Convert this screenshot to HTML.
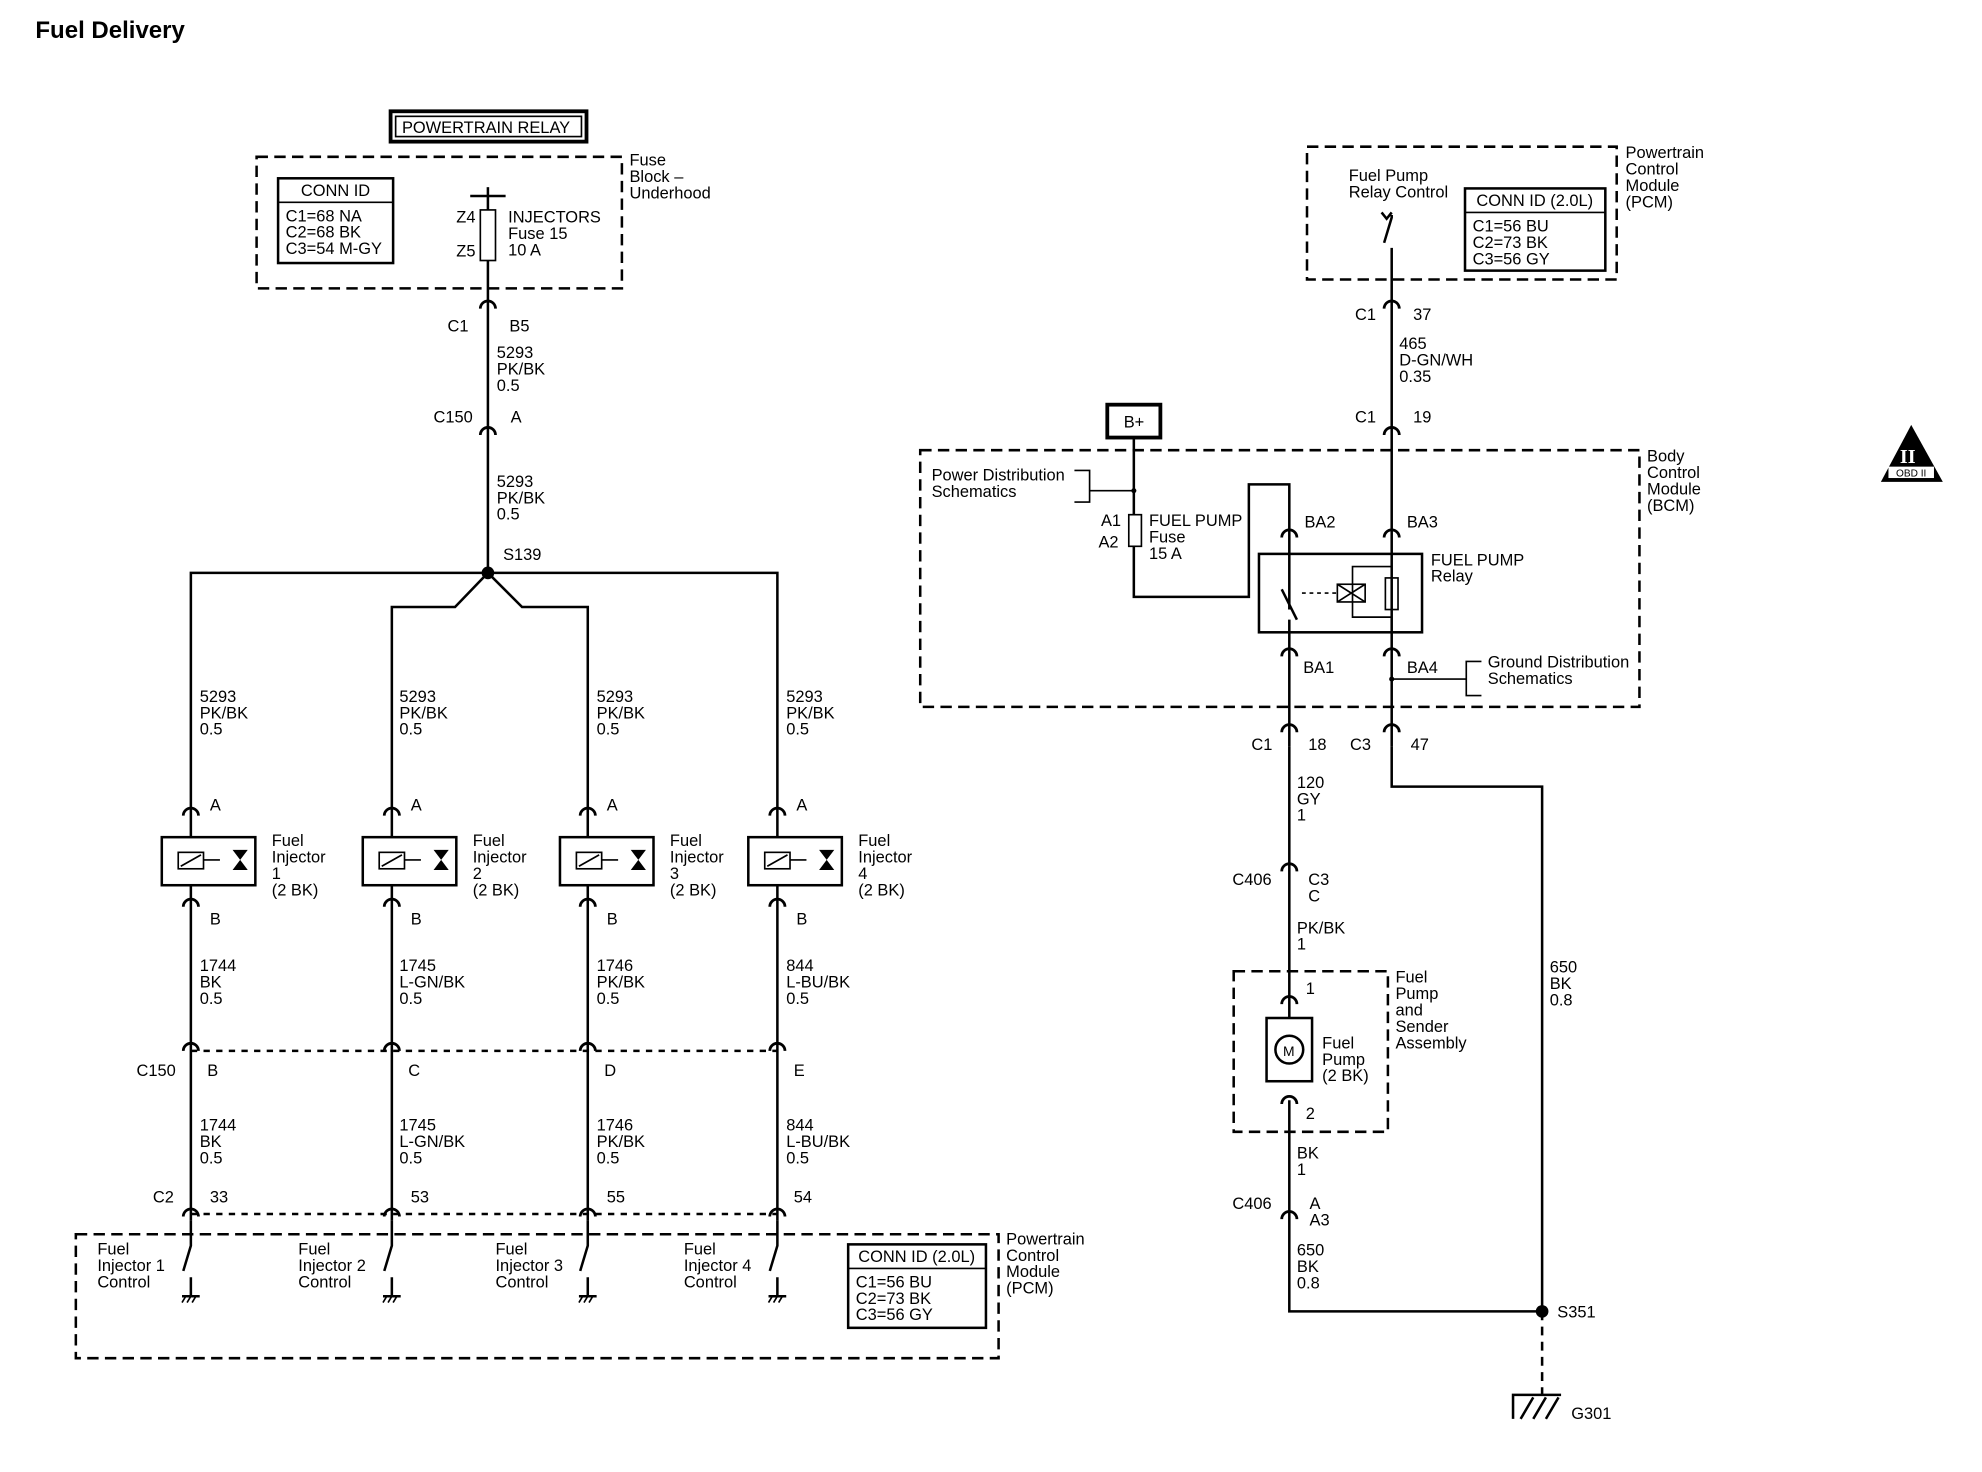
<!DOCTYPE html>
<html><head><meta charset="utf-8"><style>
html,body{margin:0;padding:0;background:#fff}
svg{display:block}
text{font-family:"Liberation Sans",sans-serif;font-size:13px;fill:#000}
.b{font-weight:bold}
.w{stroke:#000;stroke-width:2;fill:none}
.t{stroke:#000;stroke-width:1.3;fill:none}
.d{stroke:#000;stroke-width:2;fill:none;stroke-dasharray:9,5}
.a{stroke:#000;stroke-width:2.2;fill:none}
</style></head><body>
<svg width="1982" height="1472" viewBox="0 0 1568 1164" preserveAspectRatio="none">
<text x="28" y="30" class="b" style="font-size:19px">Fuel Delivery</text>

<rect x="309" y="88" width="155" height="24" style="stroke:#000;stroke-width:3;fill:none"/>
<rect x="313" y="92" width="147" height="16" class="t"/>
<text x="318" y="105">POWERTRAIN RELAY</text>

<rect x="203" y="124" width="289" height="104" class="d"/>
<text x="498" y="131">Fuse</text><text x="498" y="144">Block –</text><text x="498" y="157">Underhood</text>
<rect x="220" y="141" width="91" height="67" class="w"/>
<line x1="220" y1="160" x2="311" y2="160" class="t"/>
<text x="238" y="155">CONN ID</text>
<text x="226" y="175">C1=68 NA</text><text x="226" y="188">C2=68 BK</text><text x="226" y="201">C3=54 M-GY</text>
<line x1="372" y1="155" x2="400" y2="155" class="w"/>
<line x1="386" y1="148" x2="386" y2="155" class="w"/>
<rect x="380" y="166" width="12" height="40" class="t"/>
<line x1="386" y1="155" x2="386" y2="166" class="w"/>
<text x="361" y="176">Z4</text><text x="361" y="203">Z5</text>
<text x="402" y="176">INJECTORS</text><text x="402" y="189">Fuse 15</text><text x="402" y="202">10 A</text>

<line x1="386" y1="206" x2="386" y2="453" class="w"/>
<path d="M380,244 A6,6 0 0 1 392,244" class="a"/>
<text x="354" y="262">C1</text><text x="403" y="262">B5</text>
<text x="393" y="283">5293</text><text x="393" y="296">PK/BK</text><text x="393" y="309">0.5</text>
<path d="M380,344 A6,6 0 0 1 392,344" class="a"/>
<text x="343" y="334">C150</text><text x="404" y="334">A</text>
<text x="393" y="385">5293</text><text x="393" y="398">PK/BK</text><text x="393" y="411">0.5</text>
<text x="398" y="443">S139</text>
<circle cx="386" cy="453" r="5" fill="#000"/>
<polyline points="151,640 151,453 615,453 615,640" class="w"/>
<polyline points="310,640 310,480 360,480 386,453 413,480 465,480 465,640" class="w"/>

<text x="158" y="555">5293</text><text x="158" y="568">PK/BK</text><text x="158" y="581">0.5</text>
<text x="316" y="555">5293</text><text x="316" y="568">PK/BK</text><text x="316" y="581">0.5</text>
<text x="472" y="555">5293</text><text x="472" y="568">PK/BK</text><text x="472" y="581">0.5</text>
<text x="622" y="555">5293</text><text x="622" y="568">PK/BK</text><text x="622" y="581">0.5</text>

<path d="M145,645 A6,6 0 0 1 157,645" class="a"/><text x="166" y="641">A</text>
<path d="M304,645 A6,6 0 0 1 316,645" class="a"/><text x="325" y="641">A</text>
<path d="M459,645 A6,6 0 0 1 471,645" class="a"/><text x="480" y="641">A</text>
<path d="M609,645 A6,6 0 0 1 621,645" class="a"/><text x="630" y="641">A</text>
<line x1="151" y1="640" x2="151" y2="662" class="w"/><line x1="310" y1="640" x2="310" y2="662" class="w"/>
<line x1="465" y1="640" x2="465" y2="662" class="w"/><line x1="615" y1="640" x2="615" y2="662" class="w"/>

<rect x="128" y="662" width="74" height="38" class="w"/>
<rect x="287" y="662" width="74" height="38" class="w"/>
<rect x="443" y="662" width="74" height="38" class="w"/>
<rect x="592" y="662" width="74" height="38" class="w"/>
<g>
<rect x="141" y="674" width="20" height="13" class="t"/><line x1="143" y1="685" x2="159" y2="676" class="t"/><line x1="161" y1="680" x2="174" y2="680" class="t"/><path d="M184,672 L196,672 L190,680 Z M184,688 L196,688 L190,680 Z" fill="#000"/>
<rect x="300" y="674" width="20" height="13" class="t"/><line x1="302" y1="685" x2="318" y2="676" class="t"/><line x1="320" y1="680" x2="333" y2="680" class="t"/><path d="M343,672 L355,672 L349,680 Z M343,688 L355,688 L349,680 Z" fill="#000"/>
<rect x="456" y="674" width="20" height="13" class="t"/><line x1="458" y1="685" x2="474" y2="676" class="t"/><line x1="476" y1="680" x2="489" y2="680" class="t"/><path d="M499,672 L511,672 L505,680 Z M499,688 L511,688 L505,680 Z" fill="#000"/>
<rect x="605" y="674" width="20" height="13" class="t"/><line x1="607" y1="685" x2="623" y2="676" class="t"/><line x1="625" y1="680" x2="638" y2="680" class="t"/><path d="M648,672 L660,672 L654,680 Z M648,688 L660,688 L654,680 Z" fill="#000"/>
</g>
<text x="215" y="669">Fuel</text><text x="215" y="682">Injector</text><text x="215" y="695">1</text><text x="215" y="708">(2 BK)</text>
<text x="374" y="669">Fuel</text><text x="374" y="682">Injector</text><text x="374" y="695">2</text><text x="374" y="708">(2 BK)</text>
<text x="530" y="669">Fuel</text><text x="530" y="682">Injector</text><text x="530" y="695">3</text><text x="530" y="708">(2 BK)</text>
<text x="679" y="669">Fuel</text><text x="679" y="682">Injector</text><text x="679" y="695">4</text><text x="679" y="708">(2 BK)</text>

<line x1="151" y1="700" x2="151" y2="965" class="w"/><line x1="310" y1="700" x2="310" y2="965" class="w"/>
<line x1="465" y1="700" x2="465" y2="965" class="w"/><line x1="615" y1="700" x2="615" y2="965" class="w"/>
<path d="M145,717 A6,6 0 0 1 157,717" class="a"/><text x="166" y="731">B</text>
<path d="M304,717 A6,6 0 0 1 316,717" class="a"/><text x="325" y="731">B</text>
<path d="M459,717 A6,6 0 0 1 471,717" class="a"/><text x="480" y="731">B</text>
<path d="M609,717 A6,6 0 0 1 621,717" class="a"/><text x="630" y="731">B</text>

<text x="158" y="768">1744</text><text x="158" y="781">BK</text><text x="158" y="794">0.5</text>
<text x="316" y="768">1745</text><text x="316" y="781">L-GN/BK</text><text x="316" y="794">0.5</text>
<text x="472" y="768">1746</text><text x="472" y="781">PK/BK</text><text x="472" y="794">0.5</text>
<text x="622" y="768">844</text><text x="622" y="781">L-BU/BK</text><text x="622" y="794">0.5</text>

<line x1="151" y1="831" x2="615" y2="831" class="d" style="stroke-dasharray:5,5"/>
<path d="M145,831 A6,6 0 0 1 157,831" class="a"/><path d="M304,831 A6,6 0 0 1 316,831" class="a"/>
<path d="M459,831 A6,6 0 0 1 471,831" class="a"/><path d="M609,831 A6,6 0 0 1 621,831" class="a"/>
<text x="108" y="851">C150</text><text x="164" y="851">B</text><text x="323" y="851">C</text><text x="478" y="851">D</text><text x="628" y="851">E</text>

<text x="158" y="894">1744</text><text x="158" y="907">BK</text><text x="158" y="920">0.5</text>
<text x="316" y="894">1745</text><text x="316" y="907">L-GN/BK</text><text x="316" y="920">0.5</text>
<text x="472" y="894">1746</text><text x="472" y="907">PK/BK</text><text x="472" y="920">0.5</text>
<text x="622" y="894">844</text><text x="622" y="907">L-BU/BK</text><text x="622" y="920">0.5</text>

<line x1="151" y1="960" x2="615" y2="960" class="d" style="stroke-dasharray:5,5"/>
<path d="M145,962 A6,6 0 0 1 157,962" class="a"/><path d="M304,962 A6,6 0 0 1 316,962" class="a"/>
<path d="M459,962 A6,6 0 0 1 471,962" class="a"/><path d="M609,962 A6,6 0 0 1 621,962" class="a"/>
<text x="121" y="951">C2</text><text x="166" y="951">33</text><text x="325" y="951">53</text><text x="480" y="951">55</text><text x="628" y="951">54</text>

<rect x="60" y="976" width="730" height="98" class="d"/>
<g class="w">
<path d="M151,965 V985 L145,1005 M151,1010 V1025 M144,1025 H158"/>
<path d="M310,965 V985 L304,1005 M310,1010 V1025 M303,1025 H317"/>
<path d="M465,965 V985 L459,1005 M465,1010 V1025 M458,1025 H472"/>
<path d="M615,965 V985 L609,1005 M615,1010 V1025 M608,1025 H622"/>
</g>
<g class="t"><path d="M147,1025 l-3,5 M151,1025 l-3,5 M155,1025 l-3,5 M306,1025 l-3,5 M310,1025 l-3,5 M314,1025 l-3,5 M461,1025 l-3,5 M465,1025 l-3,5 M469,1025 l-3,5 M611,1025 l-3,5 M615,1025 l-3,5 M619,1025 l-3,5"/></g>
<text x="77" y="992">Fuel</text><text x="77" y="1005">Injector 1</text><text x="77" y="1018">Control</text>
<text x="236" y="992">Fuel</text><text x="236" y="1005">Injector 2</text><text x="236" y="1018">Control</text>
<text x="392" y="992">Fuel</text><text x="392" y="1005">Injector 3</text><text x="392" y="1018">Control</text>
<text x="541" y="992">Fuel</text><text x="541" y="1005">Injector 4</text><text x="541" y="1018">Control</text>
<rect x="671" y="984" width="109" height="66" class="w"/><line x1="671" y1="1003" x2="780" y2="1003" class="t"/>
<text x="679" y="998">CONN ID (2.0L)</text>
<text x="677" y="1018">C1=56 BU</text><text x="677" y="1031">C2=73 BK</text><text x="677" y="1044">C3=56 GY</text>
<text x="796" y="984">Powertrain</text><text x="796" y="997">Control</text><text x="796" y="1010">Module</text><text x="796" y="1023">(PCM)</text>

<rect x="1034" y="116" width="245" height="105" class="d"/>
<text x="1286" y="125">Powertrain</text><text x="1286" y="138">Control</text><text x="1286" y="151">Module</text><text x="1286" y="164">(PCM)</text>
<text x="1067" y="143">Fuel Pump</text><text x="1067" y="156">Relay Control</text>
<rect x="1159" y="149" width="111" height="65" class="w"/><line x1="1159" y1="168" x2="1270" y2="168" class="t"/>
<text x="1168" y="163">CONN ID (2.0L)</text>
<text x="1165" y="183">C1=56 BU</text><text x="1165" y="196">C2=73 BK</text><text x="1165" y="209">C3=56 GY</text>
<path d="M1093,168 l4,5 l4,-5 M1101,170 V172 L1095,192 M1101,196 V590" class="w"/>
<path d="M1095,244 A6,6 0 0 1 1107,244" class="a"/>
<text x="1072" y="253">C1</text><text x="1118" y="253">37</text>
<text x="1107" y="276">465</text><text x="1107" y="289">D-GN/WH</text><text x="1107" y="302">0.35</text>
<path d="M1095,344 A6,6 0 0 1 1107,344" class="a"/>
<text x="1072" y="334">C1</text><text x="1118" y="334">19</text>

<rect x="876" y="320" width="42" height="26" style="stroke:#000;stroke-width:3;fill:none"/>
<text x="889" y="338">B+</text>
<rect x="728" y="356" width="569" height="203" class="d"/>
<text x="1303" y="365">Body</text><text x="1303" y="378">Control</text><text x="1303" y="391">Module</text><text x="1303" y="404">(BCM)</text>
<text x="737" y="380">Power Distribution</text><text x="737" y="393">Schematics</text>
<path d="M850,372 H862 V397 H850 M862,388 H897" class="t"/>
<line x1="897" y1="346" x2="897" y2="407" class="w"/>
<circle cx="897" cy="388" r="2" fill="#000"/>
<rect x="893" y="407" width="10" height="25" class="t"/>
<text x="871" y="416">A1</text><text x="869" y="433">A2</text>
<text x="909" y="416">FUEL PUMP</text><text x="909" y="429">Fuse</text><text x="909" y="442">15 A</text>
<polyline points="897,432 897,472 988,472 988,383 1020,383 1020,482" class="w"/>
<path d="M1014,425 A6,6 0 0 1 1026,425" class="a"/>
<text x="1032" y="417">BA2</text><text x="1113" y="417">BA3</text>
<rect x="996" y="438" width="129" height="62" class="w"/>
<path d="M1014,466 L1026,490" class="w"/>
<line x1="1020" y1="490" x2="1020" y2="590" class="w"/>
<rect x="1096" y="457" width="10" height="25" class="t"/>
<path d="M1101,448 H1070 V488 H1101" class="t"/>
<rect x="1058" y="462" width="22" height="14" class="t"/><path d="M1058,462 L1080,476 M1080,462 L1058,476" class="t"/>
<path d="M1030,469 H1058" class="t" style="stroke-dasharray:3,3"/>
<path d="M1095,425 A6,6 0 0 1 1107,425" class="a"/>
<text x="1132" y="447">FUEL PUMP</text><text x="1132" y="460">Relay</text>
<path d="M1014,519 A6,6 0 0 1 1026,519" class="a"/><path d="M1095,519 A6,6 0 0 1 1107,519" class="a"/>
<text x="1031" y="532">BA1</text><text x="1113" y="532">BA4</text>
<path d="M1101,537 H1160 M1172,523 H1160 V550 H1172" class="t"/>
<circle cx="1101" cy="537" r="2" fill="#000"/>
<text x="1177" y="528">Ground Distribution</text><text x="1177" y="541">Schematics</text>

<path d="M1014,579 A6,6 0 0 1 1026,579" class="a"/><path d="M1095,579 A6,6 0 0 1 1107,579" class="a"/>
<text x="990" y="593">C1</text><text x="1035" y="593">18</text><text x="1068" y="593">C3</text><text x="1116" y="593">47</text>
<polyline points="1101,590 1101,622 1220,622 1220,1037 1020,1037 1020,870" class="w"/>
<line x1="1020" y1="590" x2="1020" y2="805" class="w"/>
<text x="1026" y="623">120</text><text x="1026" y="636">GY</text><text x="1026" y="649">1</text>
<path d="M1014,689 A6,6 0 0 1 1026,689" class="a"/>
<text x="975" y="700">C406</text><text x="1035" y="700">C3</text><text x="1035" y="713">C</text>
<text x="1026" y="738">PK/BK</text><text x="1026" y="751">1</text>
<rect x="976" y="768" width="122" height="127" class="d"/>
<text x="1104" y="777">Fuel</text><text x="1104" y="790">Pump</text><text x="1104" y="803">and</text><text x="1104" y="816">Sender</text><text x="1104" y="829">Assembly</text>
<path d="M1014,794 A6,6 0 0 1 1026,794" class="a"/><text x="1033" y="786">1</text>
<rect x="1002" y="805" width="36" height="50" class="w"/>
<circle cx="1020" cy="830" r="11" class="w"/><text x="1015" y="835" style="font-size:11px">M</text>
<text x="1046" y="829">Fuel</text><text x="1046" y="842">Pump</text><text x="1046" y="855">(2 BK)</text>
<path d="M1014,873 A6,6 0 0 1 1026,873" class="a"/><text x="1033" y="885">2</text>
<text x="1026" y="916">BK</text><text x="1026" y="929">1</text>
<path d="M1014,964 A6,6 0 0 1 1026,964" class="a"/>
<text x="975" y="956">C406</text><text x="1036" y="956">A</text><text x="1036" y="969">A3</text>
<text x="1026" y="993">650</text><text x="1026" y="1006">BK</text><text x="1026" y="1019">0.8</text>
<text x="1226" y="769">650</text><text x="1226" y="782">BK</text><text x="1226" y="795">0.8</text>
<circle cx="1220" cy="1037" r="5" fill="#000"/>
<text x="1232" y="1042">S351</text>
<line x1="1220" y1="1037" x2="1220" y2="1103" class="d" style="stroke-dasharray:7,5"/>
<path d="M1197,1122 V1103 H1235 M1203,1122 L1213,1105 M1213,1122 L1223,1105 M1223,1122 L1233,1105" class="w"/>
<text x="1243" y="1122">G301</text>

<path d="M1512,336 L1537,381 L1488,381 Z" fill="#000"/>
<text x="1503" y="366" style="font-family:'Liberation Serif',serif;font-size:16px;fill:#fff;font-weight:bold">II</text>
<rect x="1494" y="369" width="36" height="9" fill="#fff"/>
<text x="1500" y="377" style="font-size:8px">OBD II</text>
</svg>
</body></html>
